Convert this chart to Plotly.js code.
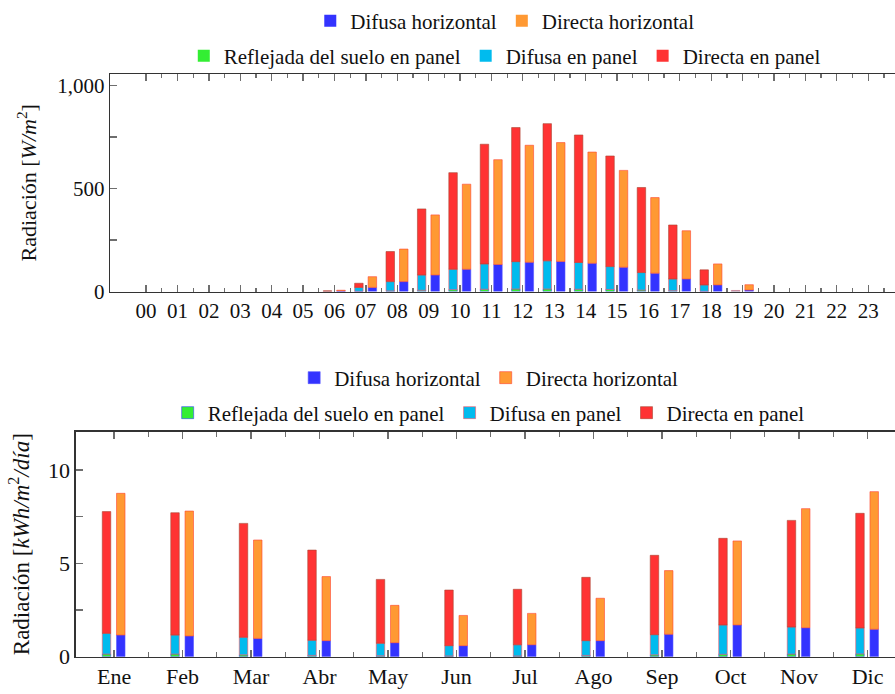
<!DOCTYPE html>
<html>
<head>
<meta charset="utf-8">
<script src="https://cdn.plot.ly/plotly-3.0.1.min.js"></script>
<style>
html,body{margin:0;padding:0;background:#fff;}
#chart{width:895px;height:694px;}
</style>
</head>
<body>
<div id="chart"></div>
<script>
// ---------- Hourly data (W/m^2) ----------
const hourLabels = ["00","01","02","03","04","05","06","07","08","09","10","11","12","13","14","15","16","17","18","19","20","21","22","23"];
const hourReflejada = [0,0,0,0,0,0,0,1,3,6,9,11,12,12,11,10,7,4,1,0,0,0,0,0];
const hourDifusaPanel = [0,0,0,0,0,0,2,19,45,74,99,123,133,137,130,111,85,57,31,5,0,0,0,0];
const hourDirectaPanel = [0,0,0,0,0,0,1,20,146,321,469,581,651,666,619,537,413,262,73,0,0,0,0,0];
const hourDifusaHoriz = [0,0,0,0,0,0,2,20,48,80,108,131,142,146,137,118,89,61,32,7,0,0,0,0];
const hourDirectaHoriz = [0,0,0,0,0,0,4,52,158,292,413,509,568,577,540,470,367,234,102,26,0,0,0,0];

// ---------- Monthly data (kWh/m^2/dia) ----------
const monthLabels = ["Ene","Feb","Mar","Abr","May","Jun","Jul","Ago","Sep","Oct","Nov","Dic"];
const monReflejada = [0.14,0.14,0.10,0.07,0.05,0.04,0.04,0.07,0.10,0.13,0.14,0.15];
const monDifusaPanel = [1.11,1.02,0.94,0.81,0.67,0.55,0.60,0.79,1.08,1.57,1.45,1.39];
const monDirectaPanel = [6.52,6.55,6.10,4.83,3.42,2.98,2.97,3.39,4.25,4.64,5.71,6.14];
const monDifusaHoriz = [1.16,1.11,0.98,0.86,0.75,0.59,0.64,0.86,1.20,1.70,1.55,1.47];
const monDirectaHoriz = [7.59,6.69,5.27,3.43,2.00,1.62,1.68,2.27,3.41,4.50,6.38,7.37];

const names = {
  dh: "Difusa horizontal",
  rh: "Directa horizontal",
  rf: "Reflejada del suelo en panel",
  dp: "Difusa en panel",
  rp: "Directa en panel"
};
const colors = {
  dh: {fill:"#3333ff", edge:"#5555ff"},
  rh: {fill:"#ff9933", edge:"#ff4433"},
  rf: {fill:"#33ee33", edge:"#3344ff"},
  dp: {fill:"#00bbee", edge:"#ff5566"},
  rp: {fill:"#ff3333", edge:"#aa4433"}
};

const FONT = "Liberation Serif, DejaVu Serif, serif";

function add(a, b){ return a.map((v,i)=>v+b[i]); }

function makeTraces(xs, refl, difP, dirP, difH, dirH, ax, ay, legA, legB, wid, offP, offH){
  const zeros = xs.map(()=>0);
  function tr(key, y, base, off, leg){
    return {
      type:"bar", x:xs, y:y, base:base, offset:off, width:wid,
      xaxis:ax, yaxis:ay, name:names[key], legend:leg,
      marker:{color:colors[key].fill, line:{color:colors[key].edge, width:y.map(v=>v>0?0.6:0)}},
      hoverinfo:"x+y+name"
    };
  }
  return [
    tr("dh", difH, zeros, offH, legA),
    tr("rh", dirH, difH, offH, legA),
    tr("rf", refl, zeros, offP, legB),
    tr("dp", difP, refl, offP, legB),
    tr("rp", dirP, add(refl, difP), offP, legB)
  ];
}

const hourIdx = hourLabels.map((_,i)=>i);
const monIdx = monthLabels.map((_,i)=>i);

const traces = [].concat(
  makeTraces(hourIdx, hourReflejada, hourDifusaPanel, hourDirectaPanel, hourDifusaHoriz, hourDirectaHoriz,
             "x","y","legend","legend2", 0.27, -0.358, 0.072),
  makeTraces(monIdx, monReflejada, monDifusaPanel, monDirectaPanel, monDifusaHoriz, monDirectaHoriz,
             "x2","y2","legend3","legend4", 0.124, -0.172, 0.036)
);

const W = 895, H = 694;
const tickCol = "#6e6e6e";
const lineCol = "#333333";

function legendCfg(xc, yc){
  return {
    orientation:"h", x:xc, xanchor:"center", y:yc, yanchor:"middle",
    font:{family:FONT, size:21, color:"#111"}, bgcolor:"rgba(0,0,0,0)",
    itemwidth:30, traceorder:"normal", itemclick:false, itemdoubleclick:false
  };
}

const layout = {
  width:W, height:H,
  margin:{l:0, r:0, t:0, b:0},
  paper_bgcolor:"#fff", plot_bgcolor:"#fff",
  font:{family:FONT, color:"#111"},
  barmode:"overlay",
  showlegend:true,
  xaxis:{
    domain:[110/W, 1], anchor:"y",
    range:[-1.15, (895-146)/31.4],
    tickmode:"array", tickvals:hourIdx, ticktext:hourLabels,
    ticks:"inside", ticklen:7, tickcolor:tickCol, tickwidth:1.3,
    minor:{tickmode:"array", tickvals:hourIdx.map(i=>i+0.5), ticks:"inside", ticklen:4, tickcolor:tickCol, tickwidth:1.3},
    showline:true, linecolor:lineCol, linewidth:1.3, mirror:"ticks",
    showgrid:false, zeroline:false,
    tickfont:{family:FONT, size:21, color:"#111"}
  },
  yaxis:{
    domain:[1-291.5/H, 1-74/H], anchor:"x",
    range:[0, 1056],
    tickmode:"array", tickvals:[0,500,1000], tickformat:",d",
    ticks:"inside", ticklen:7, tickcolor:tickCol, tickwidth:1.3,
    minor:{tickmode:"array", tickvals:[250,750], ticks:"inside", ticklen:7, tickcolor:tickCol, tickwidth:1.3},
    showline:true, linecolor:lineCol, linewidth:1.3,
    showgrid:false, zeroline:false,
    tickfont:{family:FONT, size:21, color:"#111"},
    title:{text:"Radiación [<i>W/m</i><sup>2</sup>]", font:{family:FONT, size:22, color:"#111"}, standoff:14}
  },
  xaxis2:{
    domain:[75.7/W, 1], anchor:"y2",
    range:[-0.56, (895-114)/68.5],
    tickmode:"array", tickvals:monIdx, ticktext:monthLabels,
    ticks:"inside", ticklen:7, tickcolor:tickCol, tickwidth:1.3,
    minor:{tickmode:"array", tickvals:monIdx.map(i=>i+0.5), ticks:"inside", ticklen:5, tickcolor:tickCol, tickwidth:1.3},
    showline:true, linecolor:lineCol, linewidth:1.3, mirror:"ticks",
    showgrid:false, zeroline:false,
    tickfont:{family:FONT, size:22, color:"#111"}
  },
  yaxis2:{
    domain:[1-656.7/H, 1-431.7/H], anchor:"x2",
    range:[0, 12.05],
    tickmode:"array", tickvals:[0,5,10],
    ticks:"inside", ticklen:7, tickcolor:tickCol, tickwidth:1.3,
    minor:{tickmode:"array", tickvals:[2.5,7.5], ticks:"inside", ticklen:7, tickcolor:tickCol, tickwidth:1.3},
    showline:true, linecolor:lineCol, linewidth:1.3,
    showgrid:false, zeroline:false,
    tickfont:{family:FONT, size:22, color:"#111"},
    title:{text:"Radiación [<i>kWh/m</i><sup>2</sup><i>/día</i>]", font:{family:FONT, size:23, color:"#111"}, standoff:12}
  },
  legend: legendCfg(0.564, 1-21/H),
  legend2: legendCfg(0.564, 1-56/H),
  legend3: legendCfg(0.546, 1-378/H),
  legend4: legendCfg(0.546, 1-413/H)
};

Plotly.newPlot("chart", traces, layout, {displayModeBar:false, staticPlot:true});
</script>
</body>
</html>
